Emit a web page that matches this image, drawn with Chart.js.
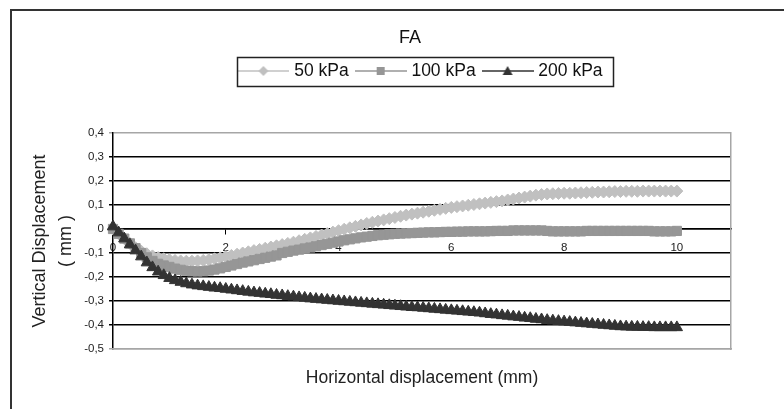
<!DOCTYPE html>
<html><head><meta charset="utf-8">
<style>
html,body{margin:0;padding:0;background:#fff;overflow:hidden;width:784px;height:409px}
#wrap{position:relative;width:784px;height:409px;overflow:hidden}
#frame{position:absolute;left:10px;top:9px;width:800px;height:420px;border:2px solid #333;pointer-events:none}
canvas{position:absolute;left:0;top:0}
</style>
<script src="https://cdn.jsdelivr.net/npm/chart.js@4.4.1/dist/chart.umd.min.js"></script>
</head><body><div id="wrap"><canvas id="c" width="784" height="409"></canvas><div id="frame"></div></div>
<script>
const chartTitle = 'FA';
const seriesLabels = ['50 kPa', '100 kPa', '200 kPa'];
const xTitle = 'Horizontal displacement (mm)';
const yTitle = ['Vertical Displacement', '( mm )'];
const xTicks = [0, 2, 4, 6, 8, 10];
const yTicks = [-0.5, -0.4, -0.3, -0.2, -0.1, 0, 0.1, 0.2, 0.3, 0.4];
const yTickLabels = ['-0,5', '-0,4', '-0,3', '-0,2', '-0,1', '0', '0,1', '0,2', '0,3', '0,4'];

const xValues = [
  0, 0.1, 0.2, 0.3, 0.4, 0.5, 0.6, 0.7, 0.8, 0.9,
  1, 1.1, 1.2, 1.3, 1.4, 1.5, 1.6, 1.7, 1.8, 1.9,
  2, 2.1, 2.2, 2.3, 2.4, 2.5, 2.6, 2.7, 2.8, 2.9,
  3, 3.1, 3.2, 3.3, 3.4, 3.5, 3.6, 3.7, 3.8, 3.9,
  4, 4.1, 4.2, 4.3, 4.4, 4.5, 4.6, 4.7, 4.8, 4.9,
  5, 5.1, 5.2, 5.3, 5.4, 5.5, 5.6, 5.7, 5.8, 5.9,
  6, 6.1, 6.2, 6.3, 6.4, 6.5, 6.6, 6.7, 6.8, 6.9,
  7, 7.1, 7.2, 7.3, 7.4, 7.5, 7.6, 7.7, 7.8, 7.9,
  8, 8.1, 8.2, 8.3, 8.4, 8.5, 8.6, 8.7, 8.8, 8.9,
  9, 9.1, 9.2, 9.3, 9.4, 9.5, 9.6, 9.7, 9.8, 9.9,
  10
];
const y50kPa = [
  0, -0.02, -0.04, -0.06, -0.078, -0.092, -0.103, -0.112, -0.119, -0.124,
  -0.128, -0.131, -0.133, -0.134, -0.134, -0.133, -0.131, -0.128, -0.124, -0.12,
  -0.115, -0.11, -0.105, -0.1, -0.095, -0.09, -0.085, -0.08, -0.075, -0.07,
  -0.065, -0.06, -0.055, -0.049, -0.043, -0.037, -0.031, -0.025, -0.019, -0.013,
  -0.007, -0.001, 0.005, 0.011, 0.017, 0.023, 0.028, 0.033, 0.038, 0.043,
  0.048, 0.053, 0.058, 0.062, 0.066, 0.07, 0.074, 0.078, 0.082, 0.086,
  0.09, 0.093, 0.096, 0.099, 0.102, 0.105, 0.108, 0.111, 0.114, 0.117,
  0.121, 0.125, 0.129, 0.133, 0.137, 0.141, 0.144, 0.146, 0.147, 0.148,
  0.149, 0.149, 0.15, 0.151, 0.152, 0.153, 0.154, 0.154, 0.155, 0.156,
  0.156, 0.157, 0.157, 0.157, 0.158, 0.158, 0.158, 0.158, 0.158, 0.158,
  0.158
];
const y100kPa = [
  0, -0.02, -0.04, -0.06, -0.08, -0.1, -0.118, -0.133, -0.145, -0.152,
  -0.158, -0.165, -0.17, -0.174, -0.176, -0.177, -0.176, -0.173, -0.169, -0.164,
  -0.158, -0.152, -0.146, -0.14, -0.135, -0.13, -0.125, -0.12, -0.115, -0.11,
  -0.1, -0.095, -0.09, -0.086, -0.081, -0.077, -0.072, -0.067, -0.062, -0.057,
  -0.052, -0.047, -0.043, -0.039, -0.035, -0.032, -0.029, -0.026, -0.024, -0.022,
  -0.02, -0.019, -0.018, -0.017, -0.016, -0.015, -0.014, -0.014, -0.013, -0.012,
  -0.012, -0.011, -0.011, -0.01, -0.01, -0.01, -0.01, -0.009, -0.008, -0.008,
  -0.008, -0.006, -0.006, -0.006, -0.006, -0.006, -0.006, -0.008, -0.01, -0.01,
  -0.01, -0.01, -0.01, -0.01, -0.008, -0.008, -0.008, -0.008, -0.008, -0.008,
  -0.008, -0.008, -0.008, -0.008, -0.008, -0.008, -0.01, -0.01, -0.01, -0.01,
  -0.008
];
const y200kPa = [
  0.01, -0.015, -0.04, -0.065, -0.09, -0.115, -0.14, -0.16, -0.178, -0.193,
  -0.205, -0.214, -0.221, -0.227, -0.232, -0.236, -0.239, -0.242, -0.245, -0.247,
  -0.25, -0.253, -0.256, -0.259, -0.262, -0.265, -0.267, -0.27, -0.272, -0.275,
  -0.277, -0.28, -0.282, -0.285, -0.287, -0.29, -0.292, -0.294, -0.296, -0.298,
  -0.3, -0.302, -0.304, -0.306, -0.308, -0.31, -0.312, -0.314, -0.316, -0.318,
  -0.32, -0.322, -0.324, -0.326, -0.327, -0.329, -0.331, -0.333, -0.335, -0.337,
  -0.339, -0.341, -0.343, -0.345, -0.347, -0.349, -0.352, -0.355, -0.357, -0.36,
  -0.362, -0.365, -0.367, -0.37, -0.372, -0.375, -0.377, -0.38, -0.382, -0.384,
  -0.386, -0.388, -0.39, -0.392, -0.394, -0.396, -0.398, -0.4, -0.402, -0.404,
  -0.406, -0.407, -0.408, -0.408, -0.409, -0.409, -0.41, -0.41, -0.41, -0.41,
  -0.41
];

const FONT = "'Liberation Sans', Arial, sans-serif";
const colors = ['#c0c0c0', '#969696', '#333333'];
const shapes = ['rectRot', 'rect', 'triangle'];
const radii = [6, 6.5, 6.5];

function makeSymbol(color, shape) {
  const c = document.createElement('canvas');
  c.width = 52; c.height = 14;
  const g = c.getContext('2d');
  g.strokeStyle = color; g.lineWidth = 1.5;
  g.beginPath(); g.moveTo(0, 7); g.lineTo(52, 7); g.stroke();
  g.fillStyle = color;
  g.beginPath();
  const cx = 26, cy = 7;
  if (shape === 'rectRot') { g.moveTo(cx, cy - 5); g.lineTo(cx + 5, cy); g.lineTo(cx, cy + 5); g.lineTo(cx - 5, cy); }
  else if (shape === 'rect') { g.rect(cx - 4, cy - 4, 8, 8); }
  else { g.moveTo(cx, cy - 5); g.lineTo(cx + 5, cy + 4); g.lineTo(cx - 5, cy + 4); }
  g.closePath(); g.fill();
  return c;
}
const symbols = colors.map((c, i) => makeSymbol(c, shapes[i]));

function series(ys) { return xValues.map((x, i) => ({x: x, y: ys[i]})); }
const seriesValues = [y50kPa, y100kPa, y200kPa];

const datasets = seriesLabels.map((lab, i) => ({
  label: lab,
  data: series(seriesValues[i]),
  borderColor: colors[i],
  backgroundColor: colors[i],
  pointBackgroundColor: colors[i],
  pointBorderColor: colors[i],
  pointStyle: shapes[i],
  pointRadius: radii[i],
  pointBorderWidth: 1,
  borderWidth: 2,
  tension: 0,
  clip: false,
  order: 3 - i,
  xAxisID: 'x',
  yAxisID: 'y'
}));

const gridColor = (ctx) => (ctx.tick && (Math.abs(ctx.tick.value - 0.4) < 1e-9 || Math.abs(ctx.tick.value + 0.5) < 1e-9)) ? '#a6a6a6' : '#000';

const legendBox = {
  id: 'legendBox',
  afterDraw(chart) {
    const hb = chart.legend && chart.legend.legendHitBoxes;
    if (!hb || !hb.length) return;
    const first = hb[0], last = hb[hb.length - 1];
    const l = first.left - 4, r = last.left + last.width + 11;
    const cy = first.top + first.height / 2;
    const ctx = chart.ctx;
    ctx.save();
    ctx.strokeStyle = '#222'; ctx.lineWidth = 1.5;
    ctx.strokeRect(Math.round(l) + 0.5, Math.round(cy - 14) + 0.5, Math.round(r - l), 29);
    ctx.restore();
  }
};

new Chart(document.getElementById('c'), {
  type: 'line',
  data: { datasets: datasets },
  plugins: [legendBox],
  options: {
    responsive: false,
    animation: false,
    events: [],
    layout: { padding: { left: 26, right: -10, top: 10, bottom: 0 } },
    plugins: {
      tooltip: { enabled: false },
      title: {
        display: true, text: chartTitle, color: '#111',
        font: { size: 18, family: FONT, weight: 'normal', lineHeight: 1.2 },
        padding: { top: 17.2, bottom: 3.45 }
      },
      legend: {
        display: true, position: 'top', fullSize: false,
        labels: {
          usePointStyle: true, pointStyleWidth: 44, padding: 10, color: '#111',
          font: { size: 17.5, family: FONT },
          generateLabels: (chart) => chart.data.datasets.map((ds, i) => ({
            text: ds.label, pointStyle: symbols[i], fillStyle: colors[i], strokeStyle: colors[i],
            lineWidth: 0, hidden: false, datasetIndex: i, fontColor: '#111'
          }))
        }
      }
    },
    scales: {
      x: {
        type: 'linear', position: { y: 0 }, min: 0, max: 10.96,
        afterBuildTicks: (s) => { s.ticks = xTicks.map(v => ({ value: v })); },
        grid: { drawOnChartArea: false, drawTicks: true, tickLength: 5, color: '#000', lineWidth: 1 },
        border: { color: '#000', width: 1.5 },
        ticks: { font: { size: 11.5, family: FONT }, color: '#222', padding: 7, maxRotation: 0, autoSkip: false,
          callback: (v, i) => String(xTicks[i]) }
      },
      y: {
        type: 'linear', position: 'left', min: -0.5, max: 0.4,
        afterBuildTicks: (s) => { s.ticks = yTicks.map(v => ({ value: v })); },
        afterFit: (s) => { s.width = 113 - 26; },
        grid: { color: gridColor, lineWidth: 1.5, tickLength: 4, drawTicks: true },
        border: { color: '#000', width: 1.5 },
        ticks: { font: { size: 11.5, family: FONT }, color: '#222', padding: 5, autoSkip: false,
          callback: (v, i) => yTickLabels[i] },
        title: { display: true, text: yTitle, color: '#222',
          font: { size: 18, family: FONT, lineHeight: 1.45 }, padding: { top: 1, bottom: 0 } }
      },
      sp: {
        type: 'linear', axis: 'x', position: 'top', display: true,
        afterFit: (s) => { s.height = 43.25; },
        grid: { display: false, drawTicks: false },
        border: { display: false },
        ticks: { display: false }
      },
      x2: {
        type: 'linear', axis: 'x', position: 'bottom', min: 0, max: 10.96,
        afterFit: (s) => { s.height = 409 - 349; },
        grid: { display: true, drawOnChartArea: false, drawTicks: false },
        border: { color: '#a6a6a6', width: 1.5 },
        ticks: { display: false },
        title: { display: true, text: xTitle, color: '#222',
          font: { size: 17.5, family: FONT, lineHeight: 1.2 }, padding: { top: 0, bottom: 20.5 } }
      },
      y2: {
        type: 'linear', axis: 'y', position: 'right',
        afterFit: (s) => { s.width = 794 - 731; },
        grid: { display: true, drawOnChartArea: false, drawTicks: false },
        border: { color: '#a6a6a6', width: 1.5 },
        ticks: { display: false }
      }
    }
  }
});
</script>
</body></html>
